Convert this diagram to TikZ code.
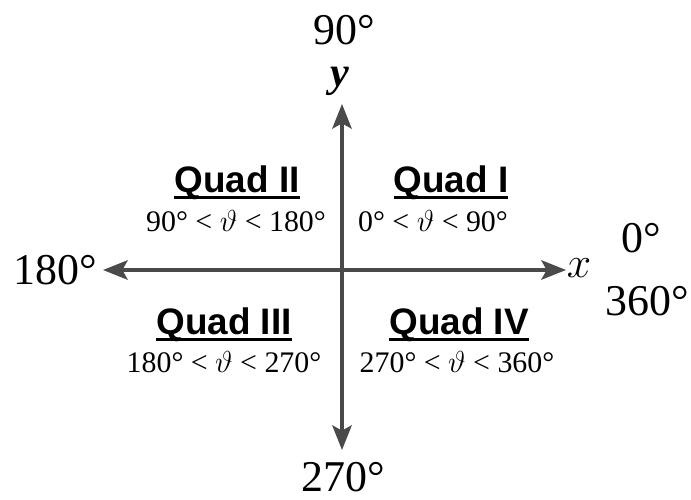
\documentclass[tikz,border=0pt]{standalone}
\usepackage{fontspec}
\setmainfont{Liberation Serif}
\newfontfamily\quadfont{Liberation Sans}
\usetikzlibrary{arrows.meta}
\definecolor{axisgray}{HTML}{4A4A4A}
\newsavebox{\quadbox}
\newcommand{\quadline}[1]{\sbox{\quadbox}{#1}\rlap{\usebox{\quadbox}}\rule[-3.6pt]{\wd\quadbox}{1.6pt}}
\begin{document}
\begin{tikzpicture}[
        x=0.02cm, y=-0.02cm,
        axis/.style={
            draw=axisgray,
            line width=2.2pt,
            -{Stealth[length=14pt,width=11pt,inset=3pt]}
        },
        angle/.style={
            font=\fontsize{25}{30}\selectfont,
            inner sep=0pt
        },
        quadname/.style={
            font=\quadfont\bfseries\fontsize{21}{25}\selectfont,
            inner sep=0pt
        },
        quadrange/.style={
            font=\fontsize{17}{20}\selectfont,
            inner sep=0pt
        }
    ]
    \useasboundingbox (0,0) rectangle (691,500);

    % Ejes
    \coordinate (o) at (342,270);
    \coordinate (xl) at (103,270);
    \coordinate (xr) at (566,270);
    \coordinate (yt) at (342,104);
    \coordinate (yb) at (342,450);
    \draw[axis] (o) -- (xl);
    \draw[axis] (o) -- (xr);
    \draw[axis] (o) -- (yt);
    \draw[axis] (o) -- (yb);

    % Etiquetas de los ejes
    \node[angle] (a90) at (344,30) {90°};
    \node[font=\fontsize{24}{28}\selectfont\itshape\bfseries, inner sep=0pt] (ylab) at (340,81) {y};
    \node[font=\fontsize{30}{32}\selectfont, inner sep=0pt] (xlab) at (579,268) {$x$};
    \node[angle] (a180) at (55,270) {180°};
    \node[angle] (a0) at (641,238) {0°};
    \node[angle] (a360) at (647,301) {360°};
    \node[angle] (a270) at (343,477) {270°};

    % Cuadrantes
    \node[quadname] (q2) at (237,183) {\quadline{Quad II}};
    \node[quadrange] (r2) at (236,221) {90° < $\vartheta$ < 180°};
    \node[quadname] (q1) at (451,183) {\quadline{Quad I}};
    \node[quadrange] (r1) at (433,221) {0° < $\vartheta$ < 90°};
    \node[quadname] (q3) at (224,325) {\quadline{Quad III}};
    \node[quadrange] (r3) at (224,362) {180° < $\vartheta$ < 270°};
    \node[quadname] (q4) at (459,325) {\quadline{Quad IV}};
    \node[quadrange] (r4) at (457,362) {270° < $\vartheta$ < 360°};

    \end{tikzpicture}
\end{document}
